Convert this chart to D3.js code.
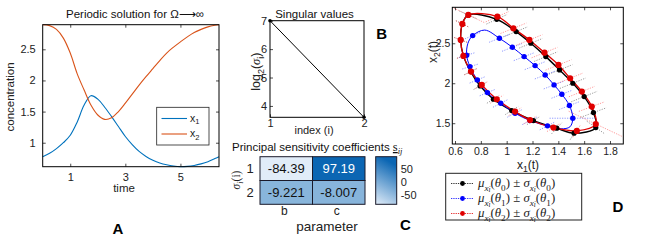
<!DOCTYPE html>
<html>
<head>
<meta charset="utf-8">
<script src="https://cdn.jsdelivr.net/npm/d3@7"></script>
<style>
body { margin: 0; background: #fff; }
svg { font-family: "Liberation Sans", Arial, sans-serif; }
</style>
</head>
<body>
<svg id="fig" width="661" height="242"></svg>
<script>
// A: periodic solution
var time = [0, 0.25, 0.5, 0.75, 1, 1.25, 1.5, 1.75, 2, 2.25, 2.5, 2.75, 3, 3.25, 3.5, 3.75, 4, 4.25, 4.5, 4.75, 5, 5.25, 5.5, 5.75, 6, 6.25, 6.4];
var x1 = [0.775, 0.83, 0.905, 1.0, 1.12, 1.33, 1.60, 1.755, 1.70, 1.57, 1.42, 1.26, 1.10, 0.97, 0.86, 0.78, 0.72, 0.675, 0.645, 0.625, 0.615, 0.62, 0.635, 0.66, 0.695, 0.745, 0.775];
var x2 = [2.895, 2.88, 2.82, 2.68, 2.44, 2.11, 1.85, 1.605, 1.445, 1.375, 1.40, 1.50, 1.635, 1.78, 1.925, 2.06, 2.19, 2.32, 2.44, 2.535, 2.62, 2.70, 2.77, 2.82, 2.86, 2.885, 2.895];
var timeTicks = [1, 3, 5];
var concTicks = [1, 1.5, 2, 2.5];

// B: singular values
var svIndex = [1, 2];
var log2Sigma = [7.0, 3.6];
var svTicks = [4, 5, 6, 7];

// C: principal sensitivity coefficients
var rowLabels = ['1', '2'];
var paramLabels = ['b', 'c'];
var coeffs = [[-84.39, 97.19], [-9.221, -8.007]];
var cbarTicks = [50, 0, -50];

// D: mean +- sd in phase plane
var blackDots = [[0.923,2.80],[1.073,2.646],[1.187,2.50],[1.303,2.333],[1.409,2.167],[1.512,2.0],[1.60,1.833],[1.672,1.633],[1.690,1.446],[1.522,1.375],[1.388,1.4375],[1.207,1.533],[1.039,1.658],[0.897,1.80],[0.794,1.967],[0.721,2.146],[0.665,2.342],[0.644,2.542],[0.657,2.742],[0.703,2.854]];
var blackErr = [[0.08,0.06],[0.09,0.06],[0.09,0.06],[0.09,0.06],[0.10,0.065],[0.10,0.065],[0.10,0.065],[0.10,0.06],[0.07,-0.08],[0.03,0.08],[0.04,0.07],[0.05,0.05],[0.05,0.05],[0.05,0.05],[0.05,0.045],[0.05,0.04],[0.05,0.03],[0.05,-0.03],[0.05,-0.04],[0.07,-0.05]];
var redDots = [[0.928,2.833],[1.052,2.6875],[1.176,2.542],[1.293,2.383],[1.401,2.229],[1.491,2.0625],[1.582,1.896],[1.659,1.708],[1.690,1.49],[1.543,1.404],[1.362,1.446],[1.181,1.54],[1.065,1.646],[0.923,1.80],[0.807,1.979],[0.724,2.146],[0.665,2.342],[0.644,2.542],[0.657,2.742],[0.703,2.854]];
var redErr = [[0.09,0.065],[0.10,0.065],[0.10,0.065],[0.10,0.065],[0.10,0.065],[0.10,0.065],[0.10,0.065],[0.10,0.06],[0.21,-0.16],[0.03,0.08],[0.05,0.05],[0.05,0.05],[0.05,0.05],[0.05,0.05],[0.05,0.045],[0.05,0.04],[0.05,0.03],[0.05,-0.03],[0.05,-0.04],[0.13,-0.10]];
var blueDots = [[0.737,2.596],[0.944,2.5625],[1.044,2.45],[1.135,2.333],[1.220,2.221],[1.298,2.104],[1.367,1.979],[1.427,1.8625],[1.486,1.721],[1.512,1.5625],[1.316,1.467],[1.181,1.533],[1.065,1.625],[0.954,1.75],[0.851,1.883],[0.773,2.042],[0.716,2.208],[0.69,2.35]];
var blueErr = [[0.06,0.04],[0.08,0.05],[0.08,0.05],[0.08,0.05],[0.08,0.05],[0.08,0.05],[0.08,0.05],[0.08,0.05],[0.08,0.05],[0.18,0],[0.06,0.05],[0.06,0.05],[0.06,0.05],[0.06,0.05],[0.06,0.04],[0.06,0.04],[0.06,0.03],[0.06,0.03]];
var blueCurve = [[0.69,2.35],[0.70,2.50],[0.737,2.596],[0.83,2.665],[0.944,2.5625],[1.044,2.45],[1.135,2.333],[1.220,2.221],[1.298,2.104],[1.367,1.979],[1.427,1.8625],[1.486,1.721],[1.512,1.5625],[1.49,1.455],[1.42,1.43],[1.316,1.467],[1.181,1.533],[1.065,1.625],[0.954,1.75],[0.851,1.883],[0.773,2.042],[0.716,2.208]];
var x1TicksD = [0.6, 0.8, 1, 1.2, 1.4, 1.6, 1.8];
var x2TicksD = [1.5, 2, 2.5];

var svg = d3.select('#fig');
var serif = '"Liberation Serif", "DejaVu Serif", serif';
var plain = function(d) { return String(d); };

// text with sub / subsub scripts. parts = [text, level, italic, family]
function mathText(sel, parts, size, family) {
  var sizes = [size, size * 0.72, size * 0.56];
  var offs = [0, size * 0.28, size * 0.42];
  var prev = 0;
  parts.forEach(function(p) {
    sel.append('tspan')
      .attr('font-size', sizes[p[1]])
      .attr('font-style', p[2] ? 'italic' : 'normal')
      .attr('font-family', p[3] || family || null)
      .attr('dy', offs[p[1]] - offs[prev])
      .text(p[0]);
    prev = p[1];
  });
  return sel;
}

function styleAxis(g, size) {
  g.select('.domain').remove();
  g.selectAll('.tick line').attr('stroke', '#000').attr('stroke-width', 0.7);
  g.selectAll('.tick text').attr('font-size', size || 11).attr('fill', '#222')
    .attr('font-family', '"Liberation Sans", Arial, sans-serif');
}

function box(x0, y0, x1_, y1_) {
  svg.append('rect').attr('x', x0).attr('y', y0).attr('width', x1_ - x0).attr('height', y1_ - y0)
    .attr('fill', 'none').attr('stroke', '#000').attr('stroke-width', 1);
}

// ---------- panel A ----------
var ax = d3.scaleLinear().domain([0, 6.4]).range([42.7, 219]);
var ay = d3.scaleLinear().domain(d3.extent(x1.concat(x2))).range([166.7, 24.7]);

svg.append('g').attr('transform', 'translate(0,166.7)')
  .call(d3.axisBottom(ax).tickValues(timeTicks).tickSize(-3).tickPadding(7).tickFormat(plain))
  .call(styleAxis);
svg.append('g').attr('transform', 'translate(0,24.7)')
  .call(d3.axisTop(ax).tickValues(timeTicks).tickSize(-3).tickFormat(''))
  .call(styleAxis);
svg.append('g').attr('transform', 'translate(42.7,0)')
  .call(d3.axisLeft(ay).tickValues(concTicks).tickSize(-3).tickPadding(7).tickFormat(plain))
  .call(styleAxis);
svg.append('g').attr('transform', 'translate(219,0)')
  .call(d3.axisRight(ay).tickValues(concTicks).tickSize(-3).tickFormat(''))
  .call(styleAxis);

var lineA = function(vals) {
  return d3.line().x(function(d, i) { return ax(time[i]); }).y(function(d) { return ay(d); })
    .curve(d3.curveCatmullRom)(vals);
};
var colA = ['#0072BD', '#D95319'];
[x1, x2].forEach(function(vals, k) {
  svg.append('path').attr('d', lineA(vals)).attr('fill', 'none')
    .attr('stroke', colA[k]).attr('stroke-width', 1.1);
});
box(42.7, 24.7, 219, 166.7);

// legend A
svg.append('rect').attr('x', 156.7).attr('y', 107.3).attr('width', 52.3).attr('height', 37.7)
  .attr('fill', '#fff').attr('stroke', '#222').attr('stroke-width', 0.8);
['1', '2'].forEach(function(s, k) {
  var yy = 118.5 + k * 15.5;
  svg.append('line').attr('x1', 161.5).attr('x2', 187).attr('y1', yy).attr('y2', yy)
    .attr('stroke', colA[k]).attr('stroke-width', 1.1);
  mathText(svg.append('text').attr('x', 190).attr('y', yy + 3).attr('fill', '#222'),
    [['x', 0, 0], [s, 1, 0]], 10.5);
});

svg.append('text').attr('x', 135).attr('y', 18).attr('text-anchor', 'middle')
  .attr('font-size', 11.5).attr('fill', '#111').text('Periodic solution for  Ω⟶∞');
svg.append('text').attr('x', 124).attr('y', 192).attr('text-anchor', 'middle')
  .attr('font-size', 11.5).attr('fill', '#222').text('time');
svg.append('text').attr('transform', 'translate(14,97) rotate(-90)').attr('text-anchor', 'middle')
  .attr('font-size', 11.5).attr('fill', '#222').text('concentration');
svg.append('text').attr('x', 118).attr('y', 234).attr('text-anchor', 'middle')
  .attr('font-size', 15).attr('font-weight', 'bold').text('A');

// ---------- panel B ----------
var bx = d3.scaleLinear().domain(d3.extent(svIndex)).range([270, 364]);
var by = d3.scaleLinear().domain([d3.min(log2Sigma), d3.max(log2Sigma)]).range([117.3, 20.7]);
svg.append('g').attr('transform', 'translate(0,117.3)')
  .call(d3.axisBottom(bx).tickValues(svIndex).tickSize(-3).tickPadding(2).tickFormat(plain))
  .call(styleAxis);
svg.append('g').attr('transform', 'translate(270,0)')
  .call(d3.axisLeft(by).tickValues(svTicks).tickSize(-3).tickPadding(3).tickFormat(plain))
  .call(styleAxis);
svg.append('path')
  .attr('d', d3.line().x(function(d, i) { return bx(svIndex[i]); }).y(function(d) { return by(d); })(log2Sigma))
  .attr('fill', 'none').attr('stroke', '#000').attr('stroke-width', 1);
svg.selectAll('.svdot').data(log2Sigma).enter().append('circle')
  .attr('cx', function(d, i) { return bx(svIndex[i]); }).attr('cy', function(d) { return by(d); })
  .attr('r', 1.8).attr('fill', '#000');
box(270, 20.7, 364, 117.3);
svg.append('text').attr('x', 314.5).attr('y', 17.5).attr('text-anchor', 'middle')
  .attr('font-size', 11.5).attr('fill', '#111').text('Singular values');
svg.append('text').attr('x', 314).attr('y', 134).attr('text-anchor', 'middle')
  .attr('font-size', 11).attr('fill', '#222').text('index (i)');
mathText(svg.append('text').attr('transform', 'translate(260,71.7) rotate(-90)').attr('text-anchor', 'middle').attr('fill', '#222'),
  [['log', 0, 0], ['2', 1, 0], ['(', 0, 0], ['σ', 0, 1, serif], ['i', 1, 0], [')', 0, 0]], 12.5);
svg.append('text').attr('x', 381.7).attr('y', 38.5).attr('text-anchor', 'middle')
  .attr('font-size', 15).attr('font-weight', 'bold').text('B');

// ---------- panel C ----------
var cx = d3.scaleBand().domain(paramLabels).range([260, 365]);
var cy = d3.scaleBand().domain(rowLabels).range([156.7, 204.3]);
var allC = d3.merge(coeffs);
var ccol = d3.scaleLinear().domain(d3.extent(allC)).range(['#e1ecf8', '#0b66b3']);

coeffs.forEach(function(row, r) {
  row.forEach(function(v, c) {
    svg.append('rect').attr('x', cx(paramLabels[c])).attr('y', cy(rowLabels[r]))
      .attr('width', cx.bandwidth()).attr('height', cy.bandwidth())
      .attr('fill', ccol(v)).attr('stroke', '#1a1a2a').attr('stroke-width', 1);
    svg.append('text').attr('x', cx(paramLabels[c]) + cx.bandwidth() / 2)
      .attr('y', cy(rowLabels[r]) + cy.bandwidth() / 2 + 4.6)
      .attr('text-anchor', 'middle').attr('font-size', 13)
      .attr('fill', v > 50 ? '#fff' : '#111').text(String(v));
  });
});
rowLabels.forEach(function(l) {
  svg.append('text').attr('x', 250).attr('y', cy(l) + cy.bandwidth() / 2 + 4.5)
    .attr('text-anchor', 'middle').attr('font-size', 13).attr('fill', '#222').text(l);
});
paramLabels.forEach(function(l) {
  svg.append('text').attr('x', cx(l) + cx.bandwidth() / 2 - 2).attr('y', 214.5)
    .attr('text-anchor', 'middle').attr('font-size', 12).attr('fill', '#222').text(l);
});
svg.append('text').attr('x', 327).attr('y', 230.5).attr('text-anchor', 'middle')
  .attr('font-size', 13.5).attr('fill', '#222').text('parameter');
mathText(svg.append('text').attr('transform', 'translate(240,180) rotate(-90)').attr('text-anchor', 'middle').attr('fill', '#222'),
  [['σ', 0, 1, serif], ['i', 1, 1, serif], ['(i)', 0, 0, serif]], 11.5);
var ttl = svg.append('text').attr('x', 232).attr('y', 151).attr('font-size', 11.5).attr('fill', '#111');
ttl.append('tspan').text('Principal sensitivity coefficients ');
ttl.append('tspan').attr('font-family', serif).attr('font-size', 12.5).attr('text-decoration', 'underline').text('s');
ttl.append('tspan').attr('font-family', serif).attr('font-style', 'italic')
  .attr('font-size', 8.5).attr('dy', 3).text('ij');

// colorbar
var defs = svg.append('defs');
var grad = defs.append('linearGradient').attr('id', 'cbar').attr('x1', 0).attr('y1', 1).attr('x2', 0.25).attr('y2', 0);
grad.append('stop').attr('offset', '0%').attr('stop-color', ccol(d3.min(allC)));
grad.append('stop').attr('offset', '100%').attr('stop-color', ccol(d3.max(allC)));
svg.append('rect').attr('x', 375.7).attr('y', 156.7).attr('width', 21).attr('height', 47.6)
  .attr('fill', 'url(#cbar)').attr('stroke', '#1a1a2a').attr('stroke-width', 1);
var cb = d3.scaleLinear().domain(d3.extent(allC)).range([204.3, 156.7]);
svg.append('g').attr('transform', 'translate(396.7,0)')
  .call(d3.axisRight(cb).tickValues(cbarTicks).tickSize(0).tickPadding(4).tickFormat(plain))
  .call(styleAxis, 11);
svg.append('text').attr('x', 405.5).attr('y', 229.5).attr('text-anchor', 'middle')
  .attr('font-size', 15).attr('font-weight', 'bold').text('C');

// ---------- panel D ----------
var dx = d3.scaleLinear().domain([0.579, 1.903]).range([452.3, 623.3]);
var dy = d3.scaleLinear().domain([1.24, 2.95]).range([144, 7.3]);
defs.append('clipPath').attr('id', 'clipD').append('rect')
  .attr('x', 452.3).attr('y', 7.3).attr('width', 171).attr('height', 136.7);

svg.append('g').attr('transform', 'translate(0,144)')
  .call(d3.axisBottom(dx).tickValues(x1TicksD).tickSize(-3).tickPadding(4).tickFormat(plain))
  .call(styleAxis, 10.5);
svg.append('g').attr('transform', 'translate(0,7.3)')
  .call(d3.axisTop(dx).tickValues(x1TicksD).tickSize(-3).tickFormat(''))
  .call(styleAxis);
svg.append('g').attr('transform', 'translate(452.3,0)')
  .call(d3.axisLeft(dy).tickValues(x2TicksD).tickSize(-3).tickPadding(2).tickFormat(plain))
  .call(styleAxis, 10.5);
svg.append('g').attr('transform', 'translate(623.3,0)')
  .call(d3.axisRight(dy).tickValues(x2TicksD).tickSize(-3).tickFormat(''))
  .call(styleAxis);

var gD = svg.append('g').attr('clip-path', 'url(#clipD)');
var loop = d3.line().x(function(d) { return dx(d[0]); }).y(function(d) { return dy(d[1]); })
  .curve(d3.curveCatmullRomClosed);

var setsD = [
  { dots: blackDots, err: blackErr, curve: blackDots, col: '#000', errCol: '#555', lw: 1.4, r: 2.6 },
  { dots: blueDots, err: blueErr, curve: blueCurve, col: '#0000ff', errCol: '#4455ff', lw: 1, r: 2.7 },
  { dots: redDots, err: redErr, curve: redDots, col: '#e00000', errCol: '#ff5555', lw: 1.3, r: 3.1 }
];
setsD.forEach(function(s) {
  s.dots.forEach(function(p, i) {
    var e = s.err[i];
    gD.append('line')
      .attr('x1', dx(p[0] - e[0])).attr('y1', dy(p[1] - e[1]))
      .attr('x2', dx(p[0] + e[0])).attr('y2', dy(p[1] + e[1]))
      .attr('stroke', s.errCol).attr('stroke-width', 0.7).attr('stroke-opacity', 0.85)
      .attr('stroke-dasharray', '1.2,1.3');
  });
});
setsD.forEach(function(s) {
  gD.append('path').attr('d', loop(s.curve)).attr('fill', 'none')
    .attr('stroke', s.col).attr('stroke-width', s.lw);
});
setsD.forEach(function(s) {
  gD.selectAll(null).data(s.dots).enter().append('circle')
    .attr('cx', function(d) { return dx(d[0]); }).attr('cy', function(d) { return dy(d[1]); })
    .attr('r', s.r).attr('fill', s.col);
});
box(452.3, 7.3, 623.3, 144);

mathText(svg.append('text').attr('x', 528).attr('y', 168.5).attr('text-anchor', 'middle').attr('fill', '#222'),
  [['x', 0, 0], ['1', 1, 0], ['(t)', 0, 0]], 12);
mathText(svg.append('text').attr('transform', 'translate(437,52) rotate(-90)').attr('text-anchor', 'middle').attr('fill', '#222'),
  [['x', 0, 0], ['2', 1, 0], ['(t)', 0, 0]], 12);

// legend D
svg.append('rect').attr('x', 445.7).attr('y', 173.3).attr('width', 136).attr('height', 46.7)
  .attr('fill', '#fff').attr('stroke', '#222').attr('stroke-width', 1);
['0', '1', '2'].forEach(function(k, j) {
  var yy = 183.5 + j * 15;
  var s = setsD[j];
  svg.append('line').attr('x1', 451).attr('x2', 474).attr('y1', yy).attr('y2', yy)
    .attr('stroke', s.col).attr('stroke-width', 0.8).attr('stroke-dasharray', '1.3,1');
  svg.append('circle').attr('cx', 462.5).attr('cy', yy).attr('r', 2.4).attr('fill', s.col);
  mathText(svg.append('text').attr('x', 478).attr('y', yy + 3.5).attr('fill', '#222').attr('font-family', serif),
    [['μ', 0, 1], ['x', 1, 1], ['i', 2, 1], ['(', 0, 0], ['θ', 0, 1], [k, 1, 0], [') ± ', 0, 0],
     ['σ', 0, 1], ['x', 1, 1], ['i', 2, 1], ['(', 0, 0], ['θ', 0, 1], [k, 1, 0], [')', 0, 0]], 12.8);
});
svg.append('text').attr('x', 618).attr('y', 212).attr('text-anchor', 'middle')
  .attr('font-size', 15).attr('font-weight', 'bold').text('D');
</script>
</body>
</html>
